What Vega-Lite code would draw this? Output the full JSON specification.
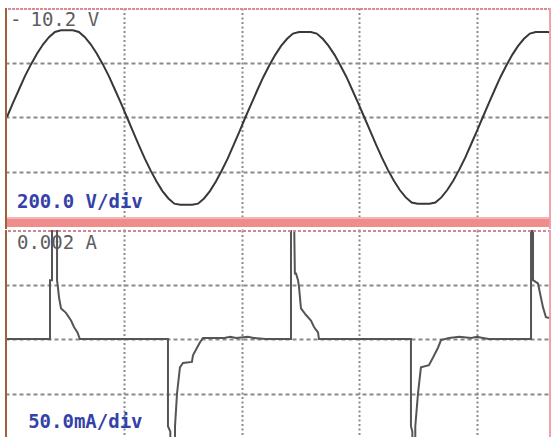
{
  "$schema": "https://vega.github.io/schema/vega-lite/v6.json",
  "padding": {"left": 5, "top": 8, "right": 1, "bottom": 0},
  "spacing": 1,
  "background": "white",
  "config": {
    "view": {"stroke": null},
    "axis": {"labels": false, "ticks": false, "domain": false, "title": null, "grid": true, "gridColor": "#8a8a8a", "gridWidth": 2, "gridOpacity": 1, "minExtent": 0, "maxExtent": 0},
    "axisX": {"gridDash": [2, 2.5]},
    "axisY": {"gridDash": [4, 3]}
  },
  "datasets": {
    "voltage": [
      {"t": 0, "v": 0}, {"t": 0.51, "v": 52}, {"t": 1.02, "v": 101}, {"t": 1.53, "v": 150}, {"t": 2.04, "v": 193}, {"t": 2.55, "v": 232}, {"t": 3.06, "v": 266}, {"t": 3.57, "v": 293}, {"t": 4.08, "v": 312}, {"t": 4.59, "v": 318}, {"t": 5.1, "v": 318}, {"t": 5.61, "v": 318}, {"t": 6.12, "v": 312}, {"t": 6.63, "v": 293}, {"t": 7.14, "v": 266}, {"t": 7.65, "v": 232}, {"t": 8.16, "v": 193}, {"t": 8.67, "v": 150}, {"t": 9.18, "v": 101}, {"t": 9.69, "v": 52}, {"t": 10.2, "v": 0},
      {"t": 10.71, "v": -52}, {"t": 11.21, "v": -102}, {"t": 11.72, "v": -152}, {"t": 12.22, "v": -196}, {"t": 12.73, "v": -237}, {"t": 13.23, "v": -272}, {"t": 13.74, "v": -299}, {"t": 14.24, "v": -318}, {"t": 14.75, "v": -322}, {"t": 15.25, "v": -322}, {"t": 15.76, "v": -322}, {"t": 16.26, "v": -318}, {"t": 16.77, "v": -299}, {"t": 17.27, "v": -272}, {"t": 17.78, "v": -237}, {"t": 18.28, "v": -196}, {"t": 18.79, "v": -152}, {"t": 19.29, "v": -102}, {"t": 19.8, "v": -52}, {"t": 20.3, "v": 0},
      {"t": 20.81, "v": 50}, {"t": 21.31, "v": 99}, {"t": 21.82, "v": 147}, {"t": 22.32, "v": 189}, {"t": 22.83, "v": 228}, {"t": 23.33, "v": 261}, {"t": 23.84, "v": 287}, {"t": 24.34, "v": 306}, {"t": 24.85, "v": 312}, {"t": 25.35, "v": 312}, {"t": 25.86, "v": 312}, {"t": 26.36, "v": 306}, {"t": 26.87, "v": 287}, {"t": 27.37, "v": 261}, {"t": 27.88, "v": 228}, {"t": 28.38, "v": 189}, {"t": 28.89, "v": 147}, {"t": 29.39, "v": 99}, {"t": 29.9, "v": 50}, {"t": 30.4, "v": 0},
      {"t": 30.91, "v": -51}, {"t": 31.41, "v": -101}, {"t": 31.92, "v": -150}, {"t": 32.42, "v": -194}, {"t": 32.93, "v": -234}, {"t": 33.43, "v": -268}, {"t": 33.94, "v": -295}, {"t": 34.44, "v": -314}, {"t": 34.95, "v": -318}, {"t": 35.45, "v": -318}, {"t": 35.96, "v": -318}, {"t": 36.46, "v": -314}, {"t": 36.97, "v": -295}, {"t": 37.47, "v": -268}, {"t": 37.98, "v": -234}, {"t": 38.48, "v": -194}, {"t": 38.99, "v": -150}, {"t": 39.49, "v": -101}, {"t": 40.0, "v": -51}, {"t": 40.5, "v": 0},
      {"t": 41.0, "v": 50}, {"t": 41.5, "v": 99}, {"t": 42.0, "v": 147}, {"t": 42.5, "v": 189}, {"t": 43.0, "v": 228}, {"t": 43.5, "v": 261}, {"t": 44.0, "v": 287}, {"t": 44.5, "v": 306}, {"t": 45.0, "v": 312}, {"t": 45.5, "v": 312}, {"t": 46.0, "v": 312}, {"t": 46.3, "v": 310}
    ],
    "current": [
      {"t": 0, "i": 0}, {"t": 3.66, "i": 0}, {"t": 3.66, "i": 54}, {"t": 3.83, "i": 54}, {"t": 3.83, "i": 115}, {"t": 4.26, "i": 115}, {"t": 4.26, "i": 54}, {"t": 4.34, "i": 47}, {"t": 4.43, "i": 38}, {"t": 4.6, "i": 28}, {"t": 5.02, "i": 24}, {"t": 5.45, "i": 17}, {"t": 5.7, "i": 11}, {"t": 6.0, "i": 6}, {"t": 6.2, "i": 0},
      {"t": 13.7, "i": 0}, {"t": 13.7, "i": -80}, {"t": 13.9, "i": -85}, {"t": 13.9, "i": -115}, {"t": 14.3, "i": -115}, {"t": 14.3, "i": -80}, {"t": 14.47, "i": -50}, {"t": 14.72, "i": -26}, {"t": 14.98, "i": -22}, {"t": 15.74, "i": -21}, {"t": 15.83, "i": -15}, {"t": 16.17, "i": -8}, {"t": 16.43, "i": -3}, {"t": 16.68, "i": 1}, {"t": 18.5, "i": 1}, {"t": 19.0, "i": 2}, {"t": 19.5, "i": 1}, {"t": 20.5, "i": 2}, {"t": 21.0, "i": 1}, {"t": 22.0, "i": 0},
      {"t": 24.17, "i": 0}, {"t": 24.17, "i": 115}, {"t": 24.43, "i": 115}, {"t": 24.5, "i": 60}, {"t": 24.6, "i": 60}, {"t": 24.77, "i": 54}, {"t": 24.85, "i": 48}, {"t": 25.02, "i": 28}, {"t": 25.45, "i": 22}, {"t": 25.87, "i": 17}, {"t": 26.13, "i": 11}, {"t": 26.47, "i": 6}, {"t": 26.55, "i": 0},
      {"t": 34.38, "i": 0}, {"t": 34.38, "i": -80}, {"t": 34.5, "i": -85}, {"t": 34.5, "i": -115}, {"t": 34.75, "i": -115}, {"t": 34.75, "i": -80}, {"t": 34.98, "i": -50}, {"t": 35.23, "i": -26}, {"t": 35.91, "i": -24}, {"t": 36.26, "i": -17}, {"t": 36.68, "i": -8}, {"t": 36.94, "i": -1}, {"t": 37.62, "i": 1}, {"t": 38.5, "i": 2}, {"t": 39.5, "i": 1}, {"t": 40.0, "i": 2}, {"t": 40.5, "i": 1}, {"t": 41.0, "i": 0},
      {"t": 44.6, "i": 0}, {"t": 44.6, "i": 115}, {"t": 44.77, "i": 115}, {"t": 44.77, "i": 54}, {"t": 45.19, "i": 51}, {"t": 45.62, "i": 29}, {"t": 45.87, "i": 20}, {"t": 46.3, "i": 19}
    ],
    "vgray": [
      {"t": 0.25, "v": 356, "label": "-"},
      {"t": 2.0, "v": 356, "label": "10.2 V"}
    ],
    "vblue": [
      {"t": 0.85, "v": -312, "label": "200.0 V/div"}
    ],
    "igray": [
      {"t": 0.85, "i": 88, "label": "0.002 A"}
    ],
    "iblue": [
      {"t": 1.8, "i": -76, "label": "50.0mA/div"}
    ],
    "one": [{}]
  },
  "vconcat": [
    {
      "width": 546,
      "height": 221,
      "layer": [
        {
          "data": {"name": "vgray"},
          "mark": {"type": "text", "align": "left", "baseline": "middle", "font": "DejaVu Sans Mono", "fontSize": 19, "color": "#5e5e5e"},
          "encoding": {
            "x": {"field": "t", "type": "quantitative", "scale": {"domain": [-0.17, 46.3], "nice": false, "zero": false}, "axis": {"values": [10, 20, 30, 40]}},
            "y": {"field": "v", "type": "quantitative", "scale": {"domain": [-411, 400], "nice": false, "zero": false}, "axis": {"values": [200, 0, -200]}},
            "text": {"field": "label"}
          }
        },
        {
          "data": {"name": "vblue"},
          "mark": {"type": "text", "align": "left", "baseline": "middle", "font": "DejaVu Sans Mono", "fontSize": 19, "fontWeight": "bold", "color": "#3442a8"},
          "encoding": {
            "x": {"field": "t", "type": "quantitative"},
            "y": {"field": "v", "type": "quantitative"},
            "text": {"field": "label"}
          }
        },
        {
          "data": {"name": "voltage"},
          "mark": {"type": "line", "color": "#383838", "strokeWidth": 2, "clip": true},
          "encoding": {
            "x": {"field": "t", "type": "quantitative"},
            "y": {"field": "v", "type": "quantitative"}
          }
        },
        {
          "data": {"name": "one"},
          "mark": {"type": "rect", "color": "#ef8d8d", "clip": true},
          "encoding": {
            "x": {"datum": -0.17},
            "x2": {"datum": 46.3},
            "y": {"datum": -367},
            "y2": {"datum": -404}
          }
        },
        {
          "data": {"name": "one"},
          "mark": {"type": "rect", "color": "#f6b4b4", "clip": true},
          "encoding": {
            "x": {"datum": -0.17},
            "x2": {"datum": 46.3},
            "y": {"datum": -367},
            "y2": {"datum": -374}
          }
        },
        {
          "data": {"name": "one"},
          "mark": {"type": "rule", "color": "#d98a95", "strokeWidth": 2, "strokeDash": [3, 1], "clip": true},
          "encoding": {"y": {"datum": 396.5}}
        },
        {
          "data": {"name": "one"},
          "mark": {"type": "rule", "color": "#a0603a", "strokeWidth": 2, "clip": true},
          "encoding": {"x": {"datum": -0.085}}
        },
        {
          "data": {"name": "one"},
          "mark": {"type": "rule", "color": "#f0a0a8", "strokeWidth": 2, "clip": true},
          "encoding": {"x": {"datum": 46.22}}
        }
      ]
    },
    {
      "width": 546,
      "height": 207,
      "layer": [
        {
          "data": {"name": "igray"},
          "mark": {"type": "text", "align": "left", "baseline": "middle", "font": "DejaVu Sans Mono", "fontSize": 19, "color": "#5e5e5e"},
          "encoding": {
            "x": {"field": "t", "type": "quantitative", "scale": {"domain": [-0.17, 46.3], "nice": false, "zero": false}, "axis": {"values": [10, 20, 30, 40]}},
            "y": {"field": "i", "type": "quantitative", "scale": {"domain": [-89.9, 100], "nice": false, "zero": false}, "axis": {"values": [50, 0, -50]}},
            "text": {"field": "label"}
          }
        },
        {
          "data": {"name": "iblue"},
          "mark": {"type": "text", "align": "left", "baseline": "middle", "font": "DejaVu Sans Mono", "fontSize": 19, "fontWeight": "bold", "color": "#3442a8"},
          "encoding": {
            "x": {"field": "t", "type": "quantitative"},
            "y": {"field": "i", "type": "quantitative"},
            "text": {"field": "label"}
          }
        },
        {
          "data": {"name": "current"},
          "mark": {"type": "line", "color": "#555555", "strokeWidth": 2, "clip": true},
          "encoding": {
            "x": {"field": "t", "type": "quantitative"},
            "y": {"field": "i", "type": "quantitative"},
            "order": {"value": null}
          }
        },
        {
          "data": {"name": "one"},
          "mark": {"type": "rule", "color": "#c98a90", "strokeWidth": 2, "strokeDash": [3, 2], "clip": true},
          "encoding": {"y": {"datum": 99}}
        },
        {
          "data": {"name": "one"},
          "mark": {"type": "rule", "color": "#a0603a", "strokeWidth": 2, "clip": true},
          "encoding": {"x": {"datum": -0.085}}
        },
        {
          "data": {"name": "one"},
          "mark": {"type": "rule", "color": "#f0a0a8", "strokeWidth": 2, "clip": true},
          "encoding": {"x": {"datum": 46.22}}
        }
      ]
    }
  ]
}
